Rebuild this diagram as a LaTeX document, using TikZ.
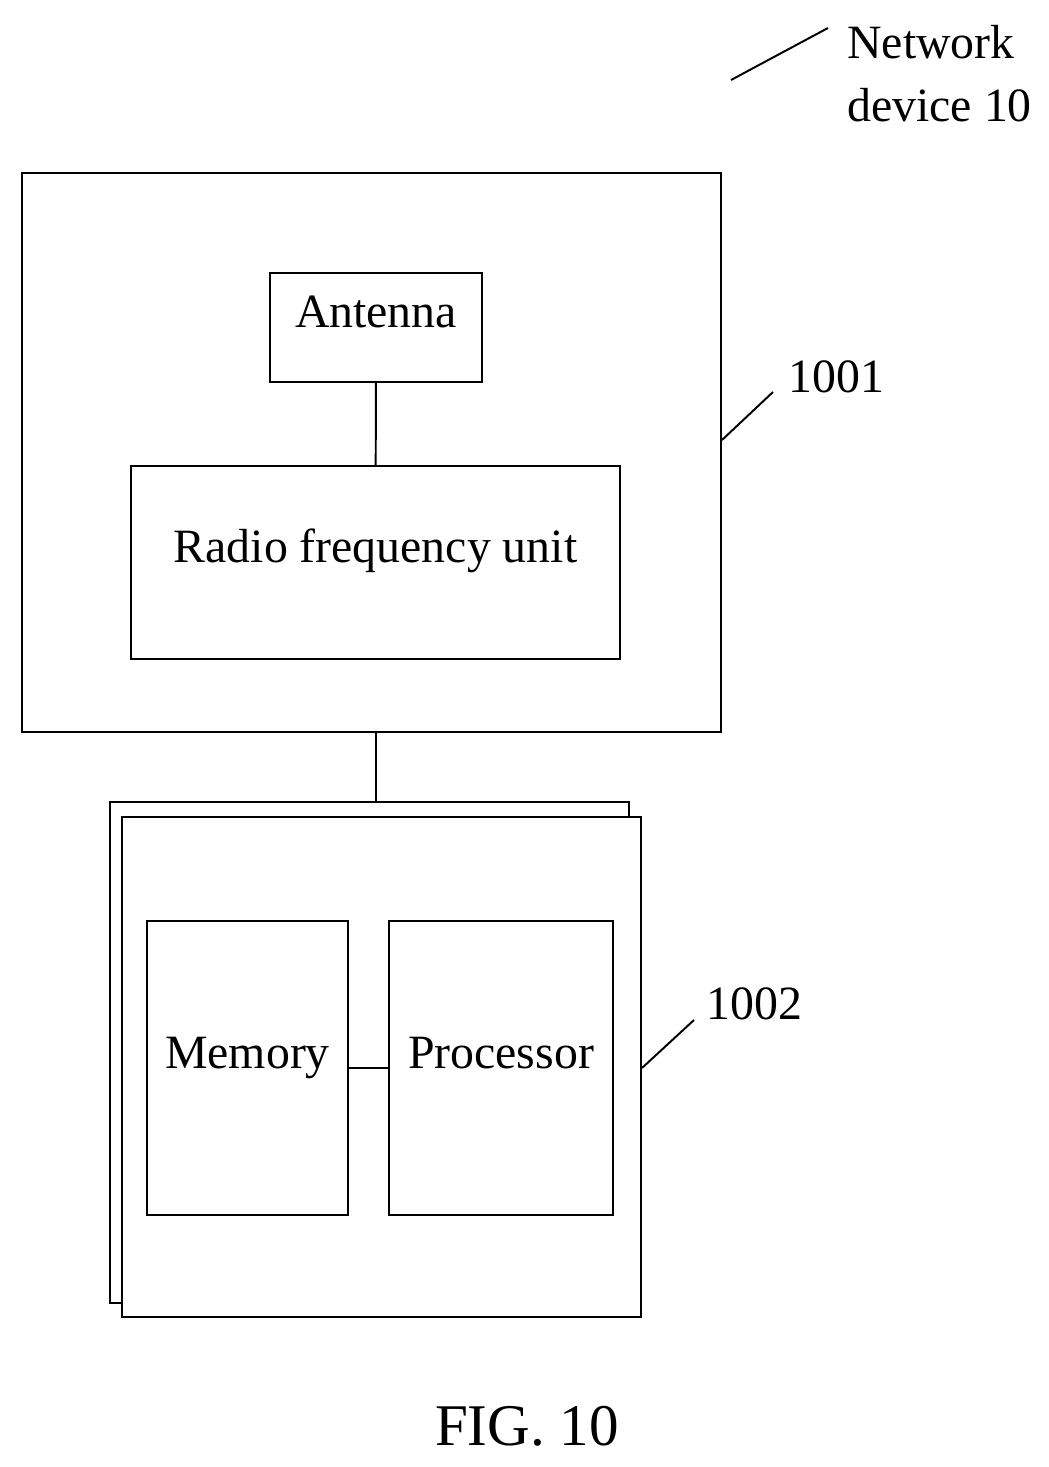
\documentclass[tikz,border=0pt]{standalone}
\usepackage{fontspec}
\setmainfont{Liberation Serif}
\usetikzlibrary{positioning}
\tikzset{
  box/.style={draw,line width=1.4pt,inner sep=0pt},
  lbl/.style={font=\fontsize{34}{44}\selectfont,text height=0.6em,text depth=0.6em},
  lead/.style={line width=1.4pt}
}
\begin{document}
\begin{tikzpicture}[x=0.025cm,y=-0.025cm]
    \useasboundingbox (0,0) rectangle (1049,1467);
    % top block
    \node[box,minimum width=699*0.025cm,minimum height=559*0.025cm] (dev) at (371.5,452.5) {};
    \node[box,lbl,minimum width=212*0.025cm,minimum height=109*0.025cm] (ant) at (376,327.5) {Antenna};
    \node[box,lbl,minimum width=489*0.025cm,minimum height=193*0.025cm] (rf) at (375.5,562.5) {Radio frequency unit};
    \draw[lead] (ant) -- (rf);
    % stacked boards
    \draw[line width=1.4pt,fill=white] (110,802) rectangle (629,1303);
    \node[box,fill=white,minimum width=519*0.025cm,minimum height=500*0.025cm] (brd) at (381.5,1067) {};
    \coordinate (brdtop) at (376,802);
    \draw[lead] (dev.south -| brdtop) -- (brdtop);
    \node[box,lbl,minimum width=201*0.025cm,minimum height=294*0.025cm] (mem) at (247.5,1068) {Memory};
    \node[box,lbl,minimum width=224*0.025cm,minimum height=294*0.025cm] (proc) at (501,1068) {Processor};
    \draw[lead] (mem) -- (proc);
    % labels
    \coordinate (l1a) at (722,440); \coordinate (l1b) at (773,392);
    \draw[lead] (l1a) -- (l1b);
    \node[lbl,anchor=west] (n1001) at (784,392) {1001};
    \coordinate (l2a) at (642,1068); \coordinate (l2b) at (694,1020);
    \draw[lead] (l2a) -- (l2b);
    \node[lbl,anchor=west] (n1002) at (702,1019) {1002};
    \coordinate (l3a) at (731,80); \coordinate (l3b) at (828,28);
    \draw[lead] (l3a) -- (l3b);
    \node[font=\fontsize{34}{45}\selectfont,anchor=west,align=left,inner sep=0pt] (ndev) at (847,74) {Network\\device 10};
    \node[font=\fontsize{42}{46}\selectfont] (fig) at (527,1426) {FIG. 10};
\end{tikzpicture}
\end{document}
